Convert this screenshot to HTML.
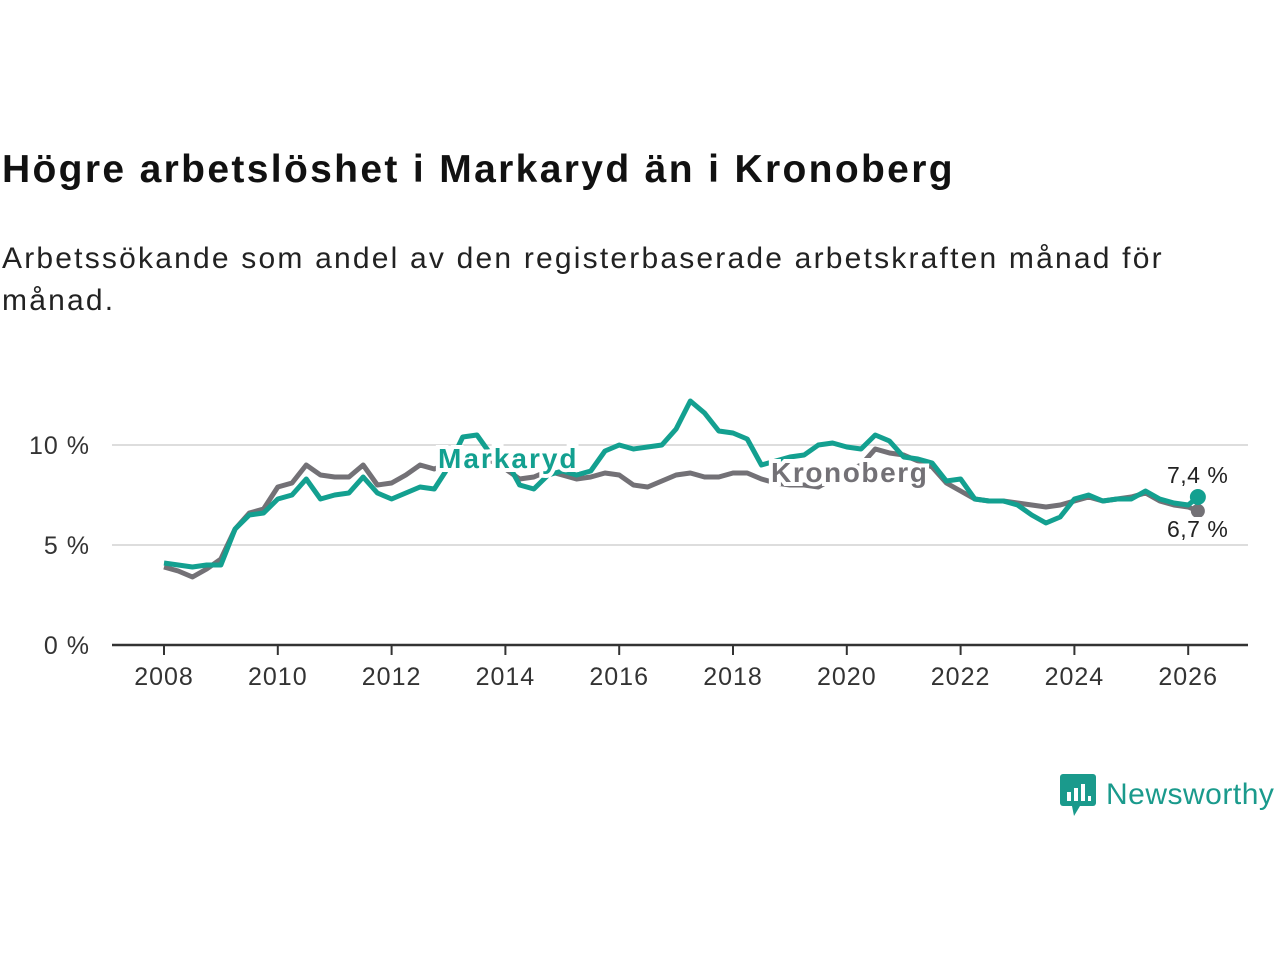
<!DOCTYPE html>
<html><head><meta charset="utf-8"><style>
body{margin:0;width:1280px;height:960px;background:#fff;font-family:"Liberation Sans","DejaVu Sans",sans-serif;position:relative;overflow:hidden}
h1{position:absolute;left:2px;top:148px;margin:0;font-size:39px;font-weight:bold;color:#111;letter-spacing:2.35px}
p{position:absolute;left:2px;top:238px;margin:0;font-size:30px;line-height:42px;color:#222;width:1250px;letter-spacing:2.2px}
svg{position:absolute;left:0;top:0}
.logo{position:absolute;left:1060px;top:774px;display:flex;align-items:center;gap:10px;color:#1a9a8c;font-size:30px;letter-spacing:0.5px}
</style></head><body>
<h1>Högre arbetslöshet i Markaryd än i Kronoberg</h1>
<p>Arbetssökande som andel av den registerbaserade arbetskraften månad för<br>månad.</p>
<svg id="c" width="1280" height="960"></svg>
<div class="logo">
<svg width="36" height="42" style="position:static"><rect x="0" y="0" width="36" height="32" rx="3" fill="#1a9a8c"/><polygon points="12,32 20,32 14,42" fill="#1a9a8c"/><rect x="7" y="18" width="4" height="9" fill="#fff"/><rect x="14" y="14" width="4" height="13" fill="#fff"/><rect x="21" y="10" width="4" height="17" fill="#fff"/><rect x="28" y="22" width="3" height="5" fill="#fff"/></svg>
<span>Newsworthy</span></div>
<script>
const years=[];for(let i=0;i<73;i++)years.push(2008+i*0.25);years.push(2026.17);
const markaryd=[4.1,4.0,3.9,4.0, 4.0,5.8,6.5,6.6, 7.3,7.5,8.3,7.3, 7.5,7.6,8.4,7.6, 7.3,7.6,7.9,7.8, 8.9,10.4,10.5,9.5, 9.3,8.0,7.8,8.5, 8.7,8.5,8.7,9.7, 10.0,9.8,9.9,10.0, 10.8,12.2,11.6,10.7, 10.6,10.3,9.0,9.2, 9.4,9.5,10.0,10.1, 9.9,9.8,10.5,10.2, 9.4,9.3,9.1,8.2, 8.3,7.3,7.2,7.2, 7.0,6.5,6.1,6.4, 7.3,7.5,7.2,7.3, 7.3,7.7,7.3,7.1, 7.0,7.4];
const kronoberg=[3.9,3.7,3.4,3.8, 4.3,5.8,6.6,6.8, 7.9,8.1,9.0,8.5, 8.4,8.4,9.0,8.0, 8.1,8.5,9.0,8.8, 9.1,9.5,9.5,9.2, 8.8,8.3,8.4,8.7, 8.5,8.3,8.4,8.6, 8.5,8.0,7.9,8.2, 8.5,8.6,8.4,8.4, 8.6,8.6,8.3,8.1, 8.0,8.0,7.9,8.3, 8.7,9.0,9.8,9.6, 9.5,9.2,8.9,8.1, 7.7,7.3,7.2,7.2, 7.1,7.0,6.9,7.0, 7.2,7.4,7.2,7.3, 7.4,7.6,7.2,7.0, 6.9,6.7];
const yTicks=[0,5,10];const xTicks=[2008,2010,2012,2014,2016,2018,2020,2022,2024,2026];
const X=y=>164+(y-2008)*56.9, Y=v=>645-v*20;
const svg=document.getElementById('c');const NS='http://www.w3.org/2000/svg';
function el(t,a,txt){const e=document.createElementNS(NS,t);for(const k in a)e.setAttribute(k,a[k]);if(txt!=null)e.textContent=txt;svg.appendChild(e);return e;}
yTicks.forEach(v=>{
 const l=el('line',{x1:112,x2:1248,y1:Y(v),y2:Y(v),stroke:v?'#ddd':'#333','stroke-width':v?2:2.5});
 
 const t=el('text',{x:90,y:Y(v)+9,'text-anchor':'end','font-size':25,fill:'#333','letter-spacing':1},v+' %');
 
});
xTicks.forEach(yr=>{
 const l=el('line',{x1:X(yr),x2:X(yr),y1:645,y2:655,stroke:'#333','stroke-width':2});
 
 const t=el('text',{x:X(yr),y:685,'text-anchor':'middle','font-size':25,fill:'#333','letter-spacing':1},yr);
 
});
function line(d,c,n){const p=el('polyline',{points:d.map((v,i)=>X(years[i])+','+Y(v)).join(' '),fill:'none',stroke:c,'stroke-width':5,'stroke-linejoin':'round'});
 }
line(kronoberg,'#737176','kronoberg-line');
line(markaryd,'#13a090','markaryd-line');
function lab(x,y,t,c,n,fs,w,ls){const e=el('text',{x:x,y:y,'font-size':fs,'font-weight':w,fill:c,stroke:'#fff','stroke-width':8,'paint-order':'stroke','letter-spacing':ls},t);
 }
lab(438,468,'Markaryd','#13a090','markaryd-label',28,'bold',2);
lab(771,482,'Kronoberg','#737176','kronoberg-label',28,'bold',1.6);
const n=years.length-1;
const d1=el('circle',{cx:X(years[n]),cy:Y(kronoberg[n]),r:7,fill:'#737176'});
const d2=el('circle',{cx:X(years[n]),cy:Y(markaryd[n]),r:8,fill:'#13a090'});
lab(1167,483,String(markaryd[n]).replace('.',',')+' %','#222','markaryd-end-value',23,'normal',0.5);
lab(1167,537,String(kronoberg[n]).replace('.',',')+' %','#222','kronoberg-end-value',23,'normal',0.5);
</script>
</body></html>
